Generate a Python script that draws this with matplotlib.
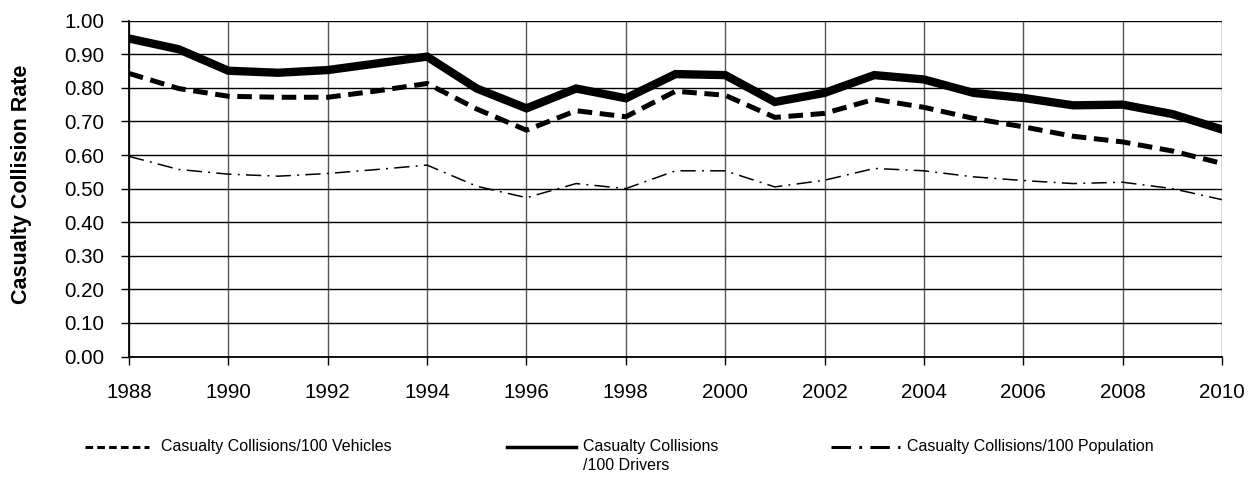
import matplotlib
matplotlib.use('Agg')
import matplotlib.pyplot as plt
from matplotlib.lines import Line2D

years = list(range(1988, 2011))
drivers = [0.947, 0.915, 0.851, 0.845, 0.853, 0.873, 0.893, 0.798, 0.739, 0.798,
           0.769, 0.841, 0.838, 0.758, 0.785, 0.838, 0.825, 0.785, 0.770, 0.748,
           0.750, 0.722, 0.676]
vehicles = [0.843, 0.798, 0.775, 0.772, 0.772, 0.791, 0.813, 0.737, 0.674, 0.732,
            0.714, 0.790, 0.778, 0.712, 0.724, 0.766, 0.742, 0.709, 0.684, 0.656,
            0.639, 0.612, 0.575]
population = [0.596, 0.557, 0.543, 0.537, 0.545, 0.557, 0.570, 0.507, 0.473, 0.515,
              0.500, 0.553, 0.553, 0.505, 0.525, 0.560, 0.553, 0.535, 0.524, 0.515,
              0.519, 0.500, 0.467]
labels = ['Casualty Collisions/100 Vehicles', 'Casualty Collisions\n/100 Drivers',
          'Casualty Collisions/100 Population']

plt.rcParams['font.family'] = ['Liberation Sans', 'DejaVu Sans']
plt.rcParams['lines.scale_dashes'] = False

W, H = 1248, 478
fig = plt.figure(figsize=(W / 100, H / 100), dpi=100)
ax = fig.add_axes([129 / W, 1 - 356.5 / H, (1222 - 129) / W, (356.5 - 20.7) / H])

ax.plot(years, drivers, color='black', lw=6.0, solid_joinstyle='miter', zorder=3)
ax.plot(years, vehicles, color='black', lw=3.6, ls=(0, (10.5, 5.5)), zorder=3)
ax.plot(years, population, color='black', lw=1.1, ls=(0, (11, 4.5, 1.4, 4.5)), zorder=3)

ax.set_xlim(1988, 2010)
ax.set_ylim(0, 1.0)
ax.set_xticks(range(1988, 2011, 2))
ax.set_yticks([i / 10 for i in range(11)])
ax.set_yticklabels(['%.2f' % (i / 10) for i in range(11)])
ax.tick_params(axis='both', labelsize=14.8, length=6, width=1, direction='out', color='black')
ax.tick_params(axis='x', pad=13)
ax.tick_params(axis='y', pad=12)

ax.grid(axis='y', color='black', lw=1.0)
ax.grid(axis='x', color='#555555', lw=1.0)
ax.set_axisbelow(True)
for s in ['top', 'right']:
    ax.spines[s].set_visible(False)
ax.spines['left'].set_linewidth(1.3)
ax.spines['bottom'].set_linewidth(1.3)

fig.text(22 / W, 1 - 184 / H, 'Casualty Collision Rate', rotation=90, fontsize=15.5,
         fontweight='bold', ha='center', va='center')

# legend drawn below the axes
ly = 1 - 447 / H
fig.add_artist(Line2D([85 / W, 149 / W], [ly, ly], transform=fig.transFigure,
                      color='black', lw=2.2, ls=(0, (5.5, 3))))
fig.text(161 / W, ly, labels[0], fontsize=11.5, va='center')
fig.add_artist(Line2D([507 / W, 576 / W], [ly, ly], transform=fig.transFigure,
                      color='black', lw=2.5))
fig.text(583 / W, ly + 8 / H, labels[1], fontsize=11.5, va='top', linespacing=1.3)
fig.add_artist(Line2D([831 / W, 900 / W], [ly, ly], transform=fig.transFigure,
                      color='black', lw=2.2, ls=(0, (14, 6, 2, 6))))
fig.text(907 / W, ly, labels[2], fontsize=11.5, va='center')

fig.savefig('out.png', dpi=100)
